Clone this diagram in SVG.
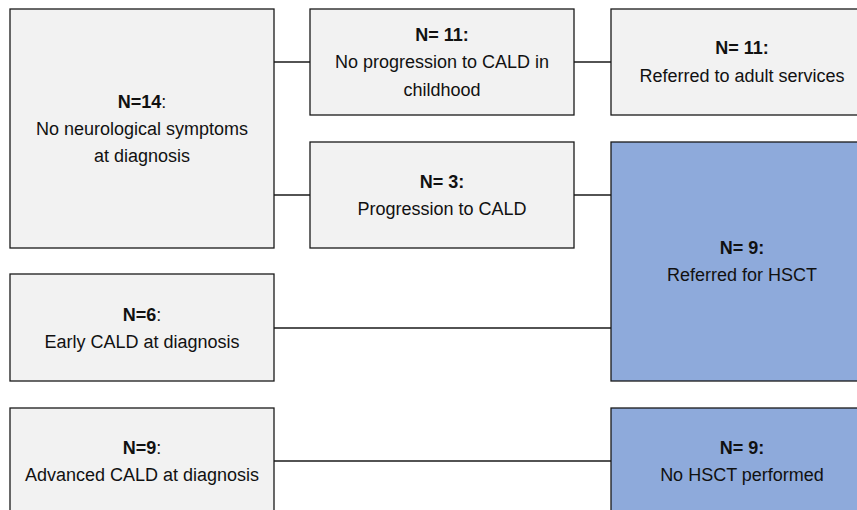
<svg xmlns="http://www.w3.org/2000/svg" width="857" height="510" viewBox="0 0 857 510">
<style>
.grey{fill:#f2f2f2;stroke:#1a1a1a;stroke-width:1.3}
.blue{fill:#8eaadb;stroke:#1a1a1a;stroke-width:1.3}
text{font-family:"Liberation Sans",Arial,sans-serif;font-size:18px;fill:#111;text-anchor:middle}
.b{font-weight:bold}
.c{fill:none;stroke:#1a1a1a;stroke-width:1.3}
</style>
<rect width="857" height="510" fill="#fff"/>
<g id="connectors">
<line class="c" x1="274" y1="62" x2="310" y2="62"/>
<line class="c" x1="274" y1="195" x2="310" y2="195"/>
<line class="c" x1="574" y1="62" x2="611" y2="62"/>
<line class="c" x1="574" y1="195" x2="611" y2="195"/>
<line class="c" x1="274" y1="328" x2="611" y2="328"/>
<line class="c" x1="274" y1="461" x2="611" y2="461"/>
</g>
<g id="noSymptoms">
<rect class="grey" x="10" y="9" width="264" height="239"/>
<text x="142" y="108"><tspan class="b">N=14</tspan>:</text>
<text x="142" y="135">No neurological symptoms</text>
<text x="142" y="162">at diagnosis</text>
</g>
<g id="noProgression">
<rect class="grey" x="310" y="9" width="264" height="106"/>
<text x="442" y="41" class="b">N= 11:</text>
<text x="442" y="68">No progression to CALD in</text>
<text x="442" y="96">childhood</text>
</g>
<g id="adultServices">
<rect class="grey" x="611" y="9" width="262" height="106"/>
<text x="742" y="54" class="b">N= 11:</text>
<text x="742" y="82">Referred to adult services</text>
</g>
<g id="progression">
<rect class="grey" x="310" y="142" width="264" height="106"/>
<text x="442" y="188" class="b">N= 3:</text>
<text x="442" y="215">Progression to CALD</text>
</g>
<g id="hsct">
<rect class="blue" x="611" y="142" width="262" height="239"/>
<text x="742" y="254" class="b">N= 9:</text>
<text x="742" y="281">Referred for HSCT</text>
</g>
<g id="earlyCald">
<rect class="grey" x="10" y="274" width="264" height="107"/>
<text x="142" y="321"><tspan class="b">N=6</tspan>:</text>
<text x="142" y="348">Early CALD at diagnosis</text>
</g>
<g id="advancedCald">
<rect class="grey" x="10" y="408" width="264" height="120"/>
<text x="142" y="454"><tspan class="b">N=9</tspan>:</text>
<text x="142" y="481">Advanced CALD at diagnosis</text>
</g>
<g id="noHsct">
<rect class="blue" x="611" y="408" width="262" height="120"/>
<text x="742" y="454" class="b">N= 9:</text>
<text x="742" y="481">No HSCT performed</text>
</g>
</svg>
